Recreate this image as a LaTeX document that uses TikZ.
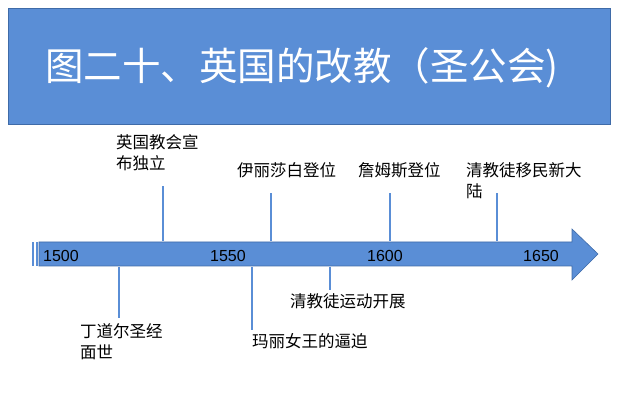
\documentclass[tikz,border=0pt]{standalone}
\usepackage{fontspec}
\setmainfont{Liberation Sans}
\newfontfamily\cjk{Noto Sans CJK SC}
\begin{document}
\begin{tikzpicture}[x=1pt,y=-1pt,
  lbl/.style={font=\cjk\fontsize{16.5}{21}\selectfont,align=left,inner sep=0pt},
  yr/.style={font=\fontsize{16}{18}\selectfont,inner sep=0pt}]
\useasboundingbox (0,0) rectangle (624,414);
\definecolor{bluef}{HTML}{5A8ED6}
\definecolor{blued}{HTML}{3F6BA8}
\node[draw=blued,fill=bluef,line width=0.8pt,minimum width=602pt,minimum height=116pt,anchor=north west,inner sep=0pt] (title) at (8,8) {};
\node[anchor=west,text=white,font=\cjk\fontsize{38.5}{44}\selectfont,inner sep=0pt] (tt) at (45,68) {图二十、英国的改教（圣公会)};
\draw[draw=blued,fill=bluef,line width=0.6pt] (39,242) -- (572,242) -- (572,229) -- (598,254) -- (572,280) -- (572,266) -- (39,266) -- cycle;
\fill[bluef] (32,242) rectangle (34,266);
\fill[bluef] (35.5,242) rectangle (37.5,266);
\node[yr] (y1) at (61,256) {1500};
\node[yr] (y2) at (228,256) {1550};
\node[yr] (y3) at (385,256) {1600};
\node[yr] (y4) at (541,256) {1650};
\coordinate (a1) at (163,241); \coordinate (b1) at (163,186);
\coordinate (a2) at (271,241); \coordinate (b2) at (271,193);
\coordinate (a3) at (390,241); \coordinate (b3) at (390,193);
\coordinate (a4) at (497,241); \coordinate (b4) at (497,193);
\coordinate (a5) at (119,267); \coordinate (b5) at (119,318);
\coordinate (a6) at (252,267); \coordinate (b6) at (252,330);
\coordinate (a7) at (330,267); \coordinate (b7) at (330,290);
\foreach \i in {1,...,7} \draw[draw=bluef,line width=2pt] (a\i) -- (b\i);
\node[lbl,anchor=north west] (l1) at (116,134) {英国教会宣\\布独立};
\node[lbl,anchor=north west] (l2) at (237,162) {伊丽莎白登位};
\node[lbl,anchor=north west] (l3) at (358,162) {詹姆斯登位};
\node[lbl,anchor=north west] (l4) at (466,162) {清教徒移民新大\\陆};
\node[lbl,anchor=north west] (l5) at (80,323) {丁道尔圣经\\面世};
\node[lbl,anchor=north west] (l6) at (252,333) {玛丽女王的逼迫};
\node[lbl,anchor=north west] (l7) at (290,293) {清教徒运动开展};
\end{tikzpicture}
\end{document}
